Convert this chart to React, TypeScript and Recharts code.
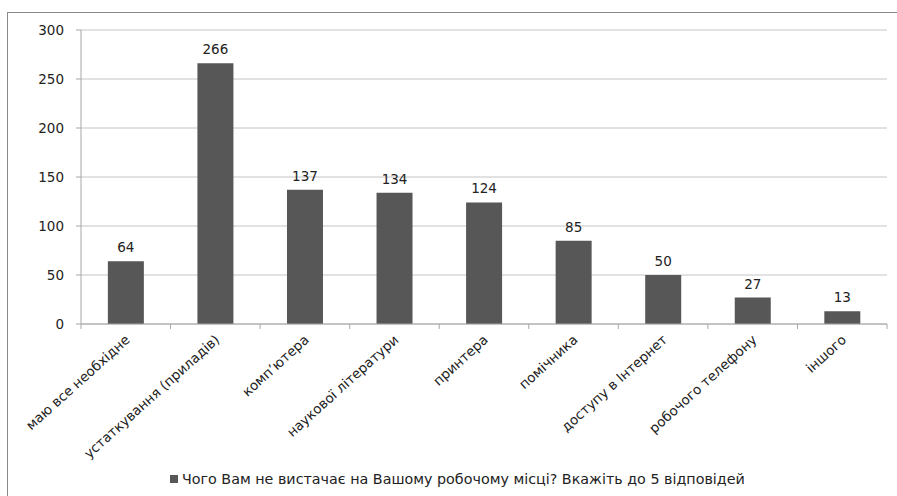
import React from 'react';
import { BarChart, Bar, XAxis, YAxis, CartesianGrid, LabelList } from 'recharts';

const categories = [
  'маю все необхідне',
  'устаткування (приладів)',
  'комп\u2019ютера',
  'наукової літератури',
  'принтера',
  'помічника',
  'доступу в Інтернет',
  'робочого телефону',
  'іншого',
];
const values = [64, 266, 137, 134, 124, 85, 50, 27, 13];
const yTicks = [0, 50, 100, 150, 200, 250, 300];
const seriesName = 'Чого Вам не вистачає на Вашому робочому місці? Вкажіть до 5 відповідей';

const data = categories.map((name, i) => ({ name, value: values[i] }));

const FONT = "'DejaVu Sans', sans-serif";
const FS = 13.5;
const TEXT = '#222';
const BAR = '#575757';
const W = 897;
const H = 496;
const M = { top: 30, right: 10, bottom: 0, left: 0 };
const Y_W = 81;
const X_H = 172;
const bandWidth = (W - M.left - M.right - Y_W) / categories.length;

const CategoryTick = (props: any) => {
  const { x, y, payload, index } = props;
  const left = x - bandWidth / 2;
  return (
    <g>
      <line x1={left} y1={y} x2={left} y2={y + 5} stroke="#a6a6a6" />
      {index === categories.length - 1 && (
        <line x1={left + bandWidth} y1={y} x2={left + bandWidth} y2={y + 5} stroke="#a6a6a6" />
      )}
      <text
        x={x + 5}
        y={y + 17}
        transform={`rotate(-42, ${x + 5}, ${y + 17})`}
        textAnchor="end"
        fontFamily={FONT}
        fontSize={FS}
        fill={TEXT}
      >
        {payload.value}
      </text>
    </g>
  );
};

export default function App() {
  return (
    <div style={{ position: 'fixed', left: 0, top: 0, width: W, height: H, background: '#fff', overflow: 'hidden' }}>
      <div
        style={{
          position: 'absolute',
          left: 7,
          top: 12,
          width: 940,
          height: 540,
          border: '1.5px solid #8a8a8a',
        }}
      />
      <div style={{ position: 'absolute', left: 0, top: 0 }}>
        <BarChart width={W} height={H} data={data} margin={M} barCategoryGap="30%">
          <CartesianGrid vertical={false} stroke="#c4c4c4" />
          <XAxis
            dataKey="name"
            height={X_H}
            interval={0}
            tick={<CategoryTick />}
            tickLine={false}
            tickSize={0}
            tickMargin={0}
            axisLine={{ stroke: '#a6a6a6' }}
          />
          <YAxis
            width={Y_W}
            domain={[0, 300]}
            ticks={yTicks}
            interval={0}
            tickSize={5}
            tickMargin={12}
            tickLine={{ stroke: '#a6a6a6' }}
            axisLine={{ stroke: '#a6a6a6' }}
            tick={{ fontFamily: FONT, fontSize: FS, fill: TEXT }}
          />
          <Bar dataKey="value" fill={BAR} isAnimationActive={false}>
            <LabelList dataKey="value" position="top" offset={9} style={{ fontFamily: FONT, fontSize: FS, fill: TEXT }} />
          </Bar>
        </BarChart>
      </div>
      <div
        style={{
          position: 'absolute',
          left: 170,
          top: 471,
          display: 'flex',
          alignItems: 'center',
          fontFamily: FONT,
          fontSize: 14.3,
          color: TEXT,
          whiteSpace: 'nowrap',
        }}
      >
        <span style={{ display: 'inline-block', width: 8, height: 8, background: BAR, marginRight: 4 }} />
        <span>{seriesName}</span>
      </div>
    </div>
  );
}
